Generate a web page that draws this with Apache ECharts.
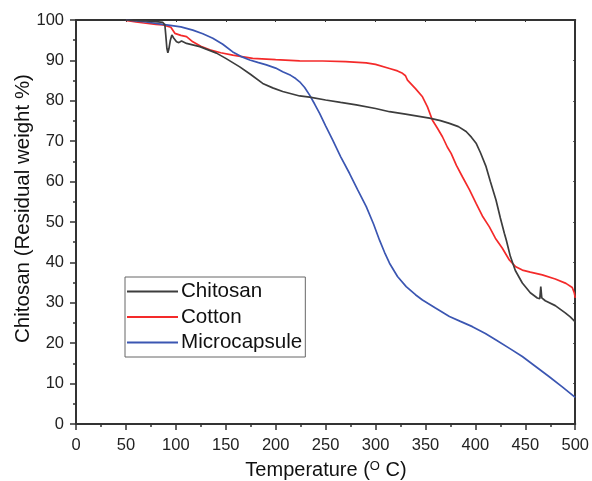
<!DOCTYPE html>
<html>
<head>
<meta charset="utf-8">
<script src="https://cdn.jsdelivr.net/npm/echarts@6/dist/echarts.min.js"></script>
<style>html,body{margin:0;padding:0;background:#fff}#c{width:592px;height:481px}</style>
</head>
<body>
<div id="c"></div>
<script>
var seriesNames = ['Chitosan', 'Cotton', 'Microcapsule'];
var xTicks = [0, 50, 100, 150, 200, 250, 300, 350, 400, 450, 500];
var yTicks = [0, 10, 20, 30, 40, 50, 60, 70, 80, 90, 100];

var chitosanData = [[50,100],[60,99.9],[70,99.8],[80,99.6],[87,99.4],[89,98.8],[90,96],[91,93],[92,91.9],[93,92.8],[94.5,95],[96,96.3],[98,95.5],[100.7,94.6],[103,94.4],[105.7,94.8],[110.7,94.2],[124,93.4],[140.7,91.8],[150,90.5],[164,88.4],[175,86.5],[187,84.3],[197,83.2],[207,82.3],[224,81.2],[234,80.9],[250,80.2],[265,79.6],[280.7,79.0],[300,78.1],[314,77.3],[330,76.7],[354,75.7],[365,75.1],[374,74.4],[383,73.6],[390.7,72.4],[396,71],[400.7,69.5],[405,67.2],[410.7,63.7],[415,60],[420.7,55.4],[425,51],[429,47.2],[431,45.5],[435,41.5],[440,38],[447,34.9],[455,32.5],[462,31.2],[464.5,31],[465.5,34],[466.5,31.2],[470,30.5],[480,29.3],[490,27.5],[495,26.5],[500,25.3]];

var cottonData = [[50,99.9],[60,99.5],[70,99.2],[80,98.9],[87,98.8],[95,98.2],[97,97.9],[99,96.7],[105,96.2],[110.7,95.9],[117,94.6],[125,93.5],[134,92.6],[145,91.9],[157,91.3],[177,90.5],[200,90.2],[224,89.9],[247,89.85],[270,89.7],[290.7,89.4],[300,89],[314,88.0],[322,87.4],[327,86.8],[330,86.2],[332,85.1],[340,83],[347,81],[352,78.5],[357,75.2],[362,73.2],[367,71.1],[372,68.5],[375.7,67],[381,64],[387,61.2],[394,58],[400.7,54.6],[407,51.5],[414,48.8],[420,46],[427,43.5],[434,40.6],[440,39],[447,38.1],[455,37.6],[467,36.9],[480,35.9],[490.7,34.8],[497,33.8],[499,32.5],[500,31.2]];

var microData = [[50,100],[70,99.5],[90.7,98.8],[105,98.3],[117,97.5],[127,96.6],[137,95.5],[147,94],[157,92.1],[165,91],[174,90.1],[182,89.5],[190.7,88.9],[200,88.1],[207,87.2],[215,86.3],[220,85.5],[224,84.7],[229,83.3],[234,81.4],[239,79.2],[244,76.9],[250,73.8],[257,70.3],[265,66.2],[274,62],[282,58],[290.7,53.8],[298,49.5],[304,45.5],[309,42.5],[314,39.8],[322,36.5],[330.7,34],[340,32],[347,30.7],[360,28.7],[374,26.6],[385,25.4],[397,24.1],[410,22.4],[420.7,20.8],[435,18.6],[447,16.7],[460,14.3],[474,11.7],[487,9.2],[500,6.6]];

var colors = ['#3d3d3d', '#f42a2a', '#3b56b2'];
var FONT = '"Liberation Sans", Arial, sans-serif';
var axisCol = '#333';

var chart = echarts.init(document.getElementById('c'));
var option = {
  animation: false,
  backgroundColor: '#fff',
  grid: {left: 76, right: 16, top: 20, bottom: 57},
  xAxis: [{
    type: 'value', min: xTicks[0], max: xTicks[xTicks.length-1], interval: 50,
    axisLine: {show: true, onZero: false, lineStyle: {color: axisCol, width: 2}},
    axisTick: {show: true, length: 6, lineStyle: {color: axisCol, width: 1.5}},
    minorTick: {show: true, splitNumber: 2, length: 3, lineStyle: {color: axisCol, width: 1.5}},
    splitLine: {show: false},
    axisLabel: {color: '#222', fontSize: 16.5, fontFamily: FONT, margin: 13}
  }, {
    type: 'value', position: 'top', min: 0, max: 500, interval: 50,
    axisLine: {show: true, onZero: false, lineStyle: {color: axisCol, width: 2}},
    axisTick: {show: true, inside: true, length: 2, lineStyle: {color: axisCol}},
    axisLabel: {show: false}, splitLine: {show: false}
  }],
  yAxis: [{
    type: 'value', min: yTicks[0], max: yTicks[yTicks.length-1], interval: 10,
    axisLine: {show: true, onZero: false, lineStyle: {color: axisCol, width: 2}},
    axisTick: {show: true, length: 6, lineStyle: {color: axisCol, width: 1.5}},
    minorTick: {show: true, splitNumber: 2, length: 3, lineStyle: {color: axisCol, width: 1.5}},
    splitLine: {show: false},
    axisLabel: {color: '#222', fontSize: 16.5, fontFamily: FONT, margin: 12}
  }, {
    type: 'value', position: 'right', min: 0, max: 100, interval: 10,
    axisLine: {show: true, onZero: false, lineStyle: {color: axisCol, width: 2}},
    axisTick: {show: true, inside: true, length: 2, lineStyle: {color: axisCol}},
    axisLabel: {show: false}, splitLine: {show: false}
  }],
  legend: {
    orient: 'vertical', left: 125, top: 277,
    data: seriesNames,
    backgroundColor: '#fff',
    borderColor: '#666', borderWidth: 1,
    padding: [3.5, 3, 3.5, 2],
    itemGap: 3.5, itemWidth: 51, itemHeight: 2, icon: 'rect',
    textStyle: {fontSize: 20.6, lineHeight: 22, fontFamily: FONT, color: '#111', padding: [0,0,0,-2]}
  },
  graphic: [{
    type: 'text', x: 326, y: 470,
    style: {
      text: '{a|Temperature (}{s|O}{a| C)}',
      align: 'center', verticalAlign: 'middle',
      rich: {
        a: {fontSize: 20, fontFamily: FONT, fill: '#111', color: '#111'},
        s: {fontSize: 13, fontFamily: FONT, fill: '#111', color: '#111', verticalAlign: 'top', padding: [0,0,8,0]}
      }
    }
  }, {
    type: 'text', x: 23, y: 208.5, rotation: Math.PI / 2,
    style: {
      text: 'Chitosan (Residual weight %)',
      align: 'center', verticalAlign: 'middle',
      font: '20.5px ' + FONT, fill: '#111'
    }
  }],
  series: [
    {name: seriesNames[0], type: 'line', data: chitosanData, showSymbol: false, color: colors[0], lineStyle: {width: 1.7, color: colors[0]}, z: 3},
    {name: seriesNames[1], type: 'line', data: cottonData, showSymbol: false, color: colors[1], lineStyle: {width: 1.7, color: colors[1]}, z: 2},
    {name: seriesNames[2], type: 'line', data: microData, showSymbol: false, color: colors[2], lineStyle: {width: 1.7, color: colors[2]}, z: 2}
  ]
};
chart.setOption(option);
</script>
</body>
</html>
